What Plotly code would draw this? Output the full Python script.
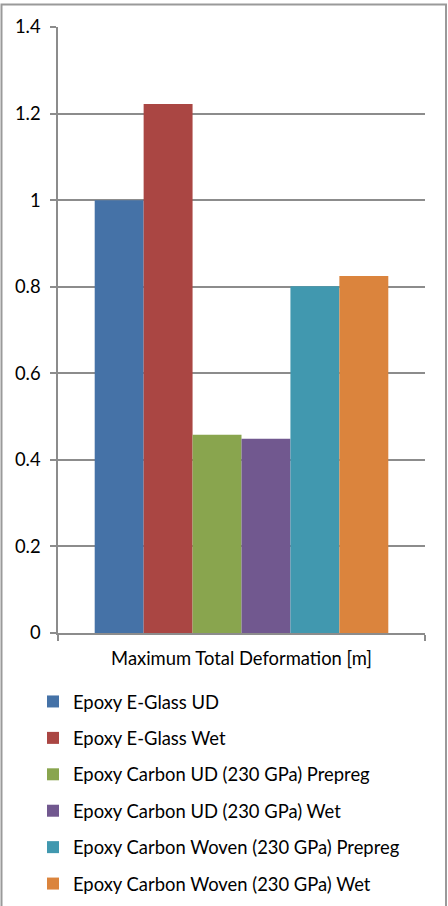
import plotly.graph_objects as go

category = ["Maximum Total Deformation [m]"]
series_names = [
    "Epoxy E-Glass UD",
    "Epoxy E-Glass Wet",
    "Epoxy Carbon UD (230 GPa) Prepreg",
    "Epoxy Carbon UD (230 GPa) Wet",
    "Epoxy Carbon Woven (230 GPa) Prepreg",
    "Epoxy Carbon Woven (230 GPa) Wet",
]
series_values = [1.0, 1.222, 0.458, 0.449, 0.801, 0.825]
series_colors = ["#4572A7", "#AA4643", "#89A54E", "#71588F", "#4198AF", "#DB843D"]
y_ticks = [0, 0.2, 0.4, 0.6, 0.8, 1.0, 1.2, 1.4]
y_ticktext = ["0", "0.2", "0.4", "0.6", "0.8", "1", "1.2", "1.4"]

FONT = "Lato"
FS = 18.4
fig = go.Figure()
for i, (name, val, col) in enumerate(zip(series_names, series_values, series_colors)):
    fig.add_trace(go.Bar(
        x=category, y=[val], name=name,
        marker=dict(color=col, line=dict(width=0)),
        legendgroup=f"g{i}",
    ))

W, H = 448, 906
L, R, T, B = 58, 23, 27, 273
pw, ph = W - L - R, H - T - B

def px_x(x):
    return (x - L) / pw

def px_y(y):
    return (H - B - y) / ph

fig.update_layout(
    width=W, height=H,
    margin=dict(l=L, r=R, t=T, b=B, autoexpand=False),
    paper_bgcolor="white", plot_bgcolor="white",
    barmode="group", bargap=0.2, bargroupgap=0,
    font=dict(family=FONT, size=FS, color="#000000"),
    showlegend=True,
    legend=dict(
        orientation="v", xref="container", yref="container",
        x=33 / W, xanchor="left", y=1 - 683 / H, yanchor="top",
        traceorder="grouped", tracegroupgap=9.5,
        font=dict(family=FONT, size=FS, color="#000000"),
        bgcolor="rgba(0,0,0,0)", itemclick=False, itemdoubleclick=False,
    ),
    xaxis=dict(
        showgrid=False, showline=True, linecolor="#8c8c8c", linewidth=1.5,
        ticks="outside", ticklen=6, tickcolor="#8c8c8c", tickwidth=1.5,
        tickson="boundaries", ticklabelstandoff=8,
        tickfont=dict(family=FONT, size=FS, color="#000000"),
    ),
    yaxis=dict(
        range=[0, 1.4], tickvals=y_ticks, ticktext=y_ticktext,
        showgrid=True, gridcolor="#8c8c8c", gridwidth=1.5,
        showline=True, linecolor="#8c8c8c", linewidth=1.5,
        ticks="outside", ticklen=6, tickcolor="#8c8c8c", tickwidth=1.5,
        ticklabelstandoff=6, zeroline=False,
        tickfont=dict(family=FONT, size=FS, color="#000000"),
    ),
    shapes=[dict(
        type="rect", xref="paper", yref="paper",
        x0=px_x(1.5), x1=px_x(446), y0=px_y(912), y1=px_y(4.5),
        line=dict(color="#9a9a9a", width=2), fillcolor="rgba(0,0,0,0)", layer="below",
    )],
)

fig.write_html("out.html")
